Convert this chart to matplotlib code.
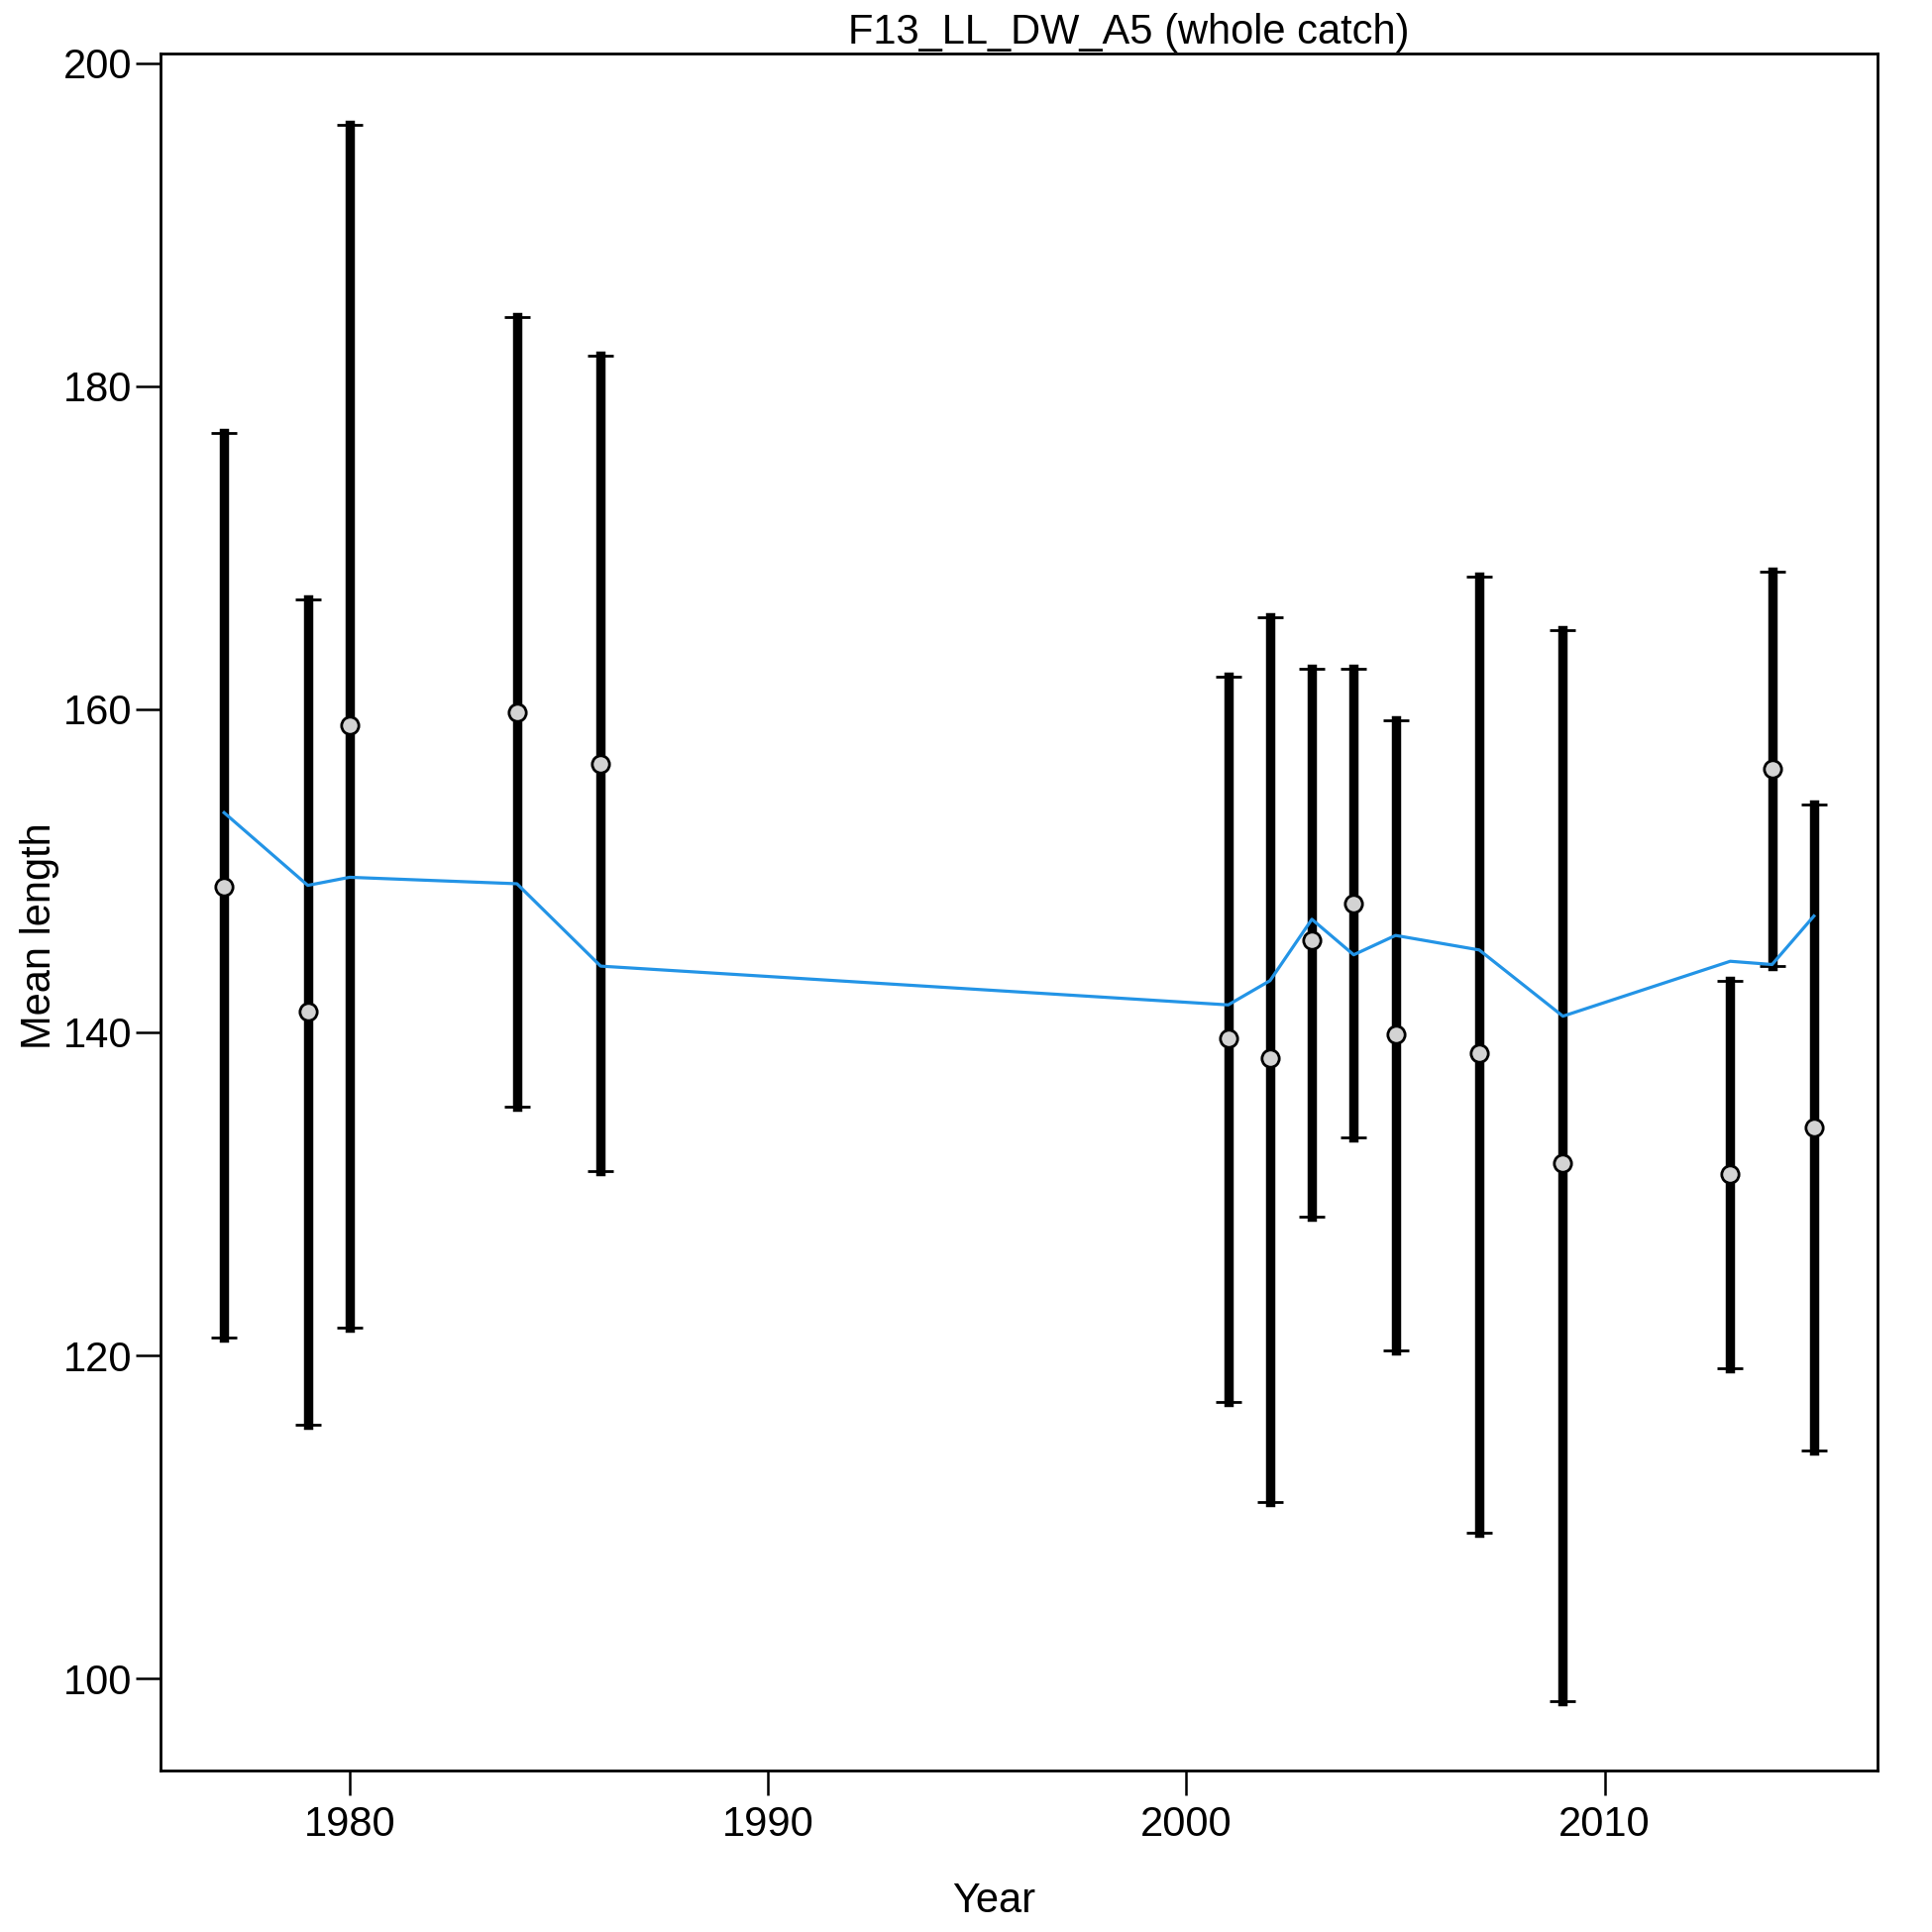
import matplotlib
matplotlib.use("Agg")
import matplotlib.pyplot as plt

plt.rcParams['font.family'] = ['Liberation Sans', 'DejaVu Sans']

years = [1977, 1979, 1980, 1984, 1986, 2001, 2002, 2003, 2004, 2005, 2007, 2009, 2013, 2014, 2015]
observed = [149.0, 141.3, 159.0, 159.8, 156.6, 139.6, 138.4, 145.7, 148.0, 139.9, 138.7, 131.9, 131.2, 156.3, 134.1]
predicted = [153.6, 149.1, 149.6, 149.2, 144.1, 141.7, 143.2, 147.0, 144.8, 146.0, 145.1, 141.0, 144.4, 144.2, 147.2]
upper = [177.1, 166.8, 196.2, 184.3, 181.9, 162.0, 165.7, 162.5, 162.5, 159.3, 168.2, 164.9, 143.2, 168.5, 154.1]
lower = [121.1, 115.7, 121.7, 135.4, 131.4, 117.1, 110.9, 128.6, 133.5, 120.3, 109.0, 98.6, 119.2, 144.1, 114.1]

x_ticks = [1980, 1990, 2000, 2010]
y_ticks = [100, 120, 140, 160, 180, 200]
title = "F13_LL_DW_A5 (whole catch)"
xlabel = "Year"
ylabel = "Mean length"

W = 1950.0
fig = plt.figure(figsize=(19.5, 19.5), dpi=100)
ax = fig.add_axes([162 / W, 1 - 1787 / W, (1895 - 162) / W, (1787 - 54) / W])

fs = 30

# error bars (thick) with thin caps
ax.vlines(years, lower, upper, colors='black', linewidth=6.8, capstyle='projecting', zorder=2)
ax.plot(years, upper, linestyle='none', marker='_', markersize=19, markeredgewidth=2.0,
        color='black', zorder=3)
ax.plot(years, lower, linestyle='none', marker='_', markersize=19, markeredgewidth=2.0,
        color='black', zorder=3)

# predicted line
ax.plot(years, predicted, color='#2394e6', linewidth=2.3, zorder=4)

# observed points
ax.plot(years, observed, linestyle='none', marker='o', markersize=12.5,
        markerfacecolor='#d3d3d3', markeredgecolor='black', markeredgewidth=2.0, zorder=5)

ax.set_xlim(1975.48, 2016.52)
ax.set_ylim(94.3, 200.6)
ax.set_xticks(x_ticks)
ax.set_yticks(y_ticks)
ax.set_xticklabels([str(t) for t in x_ticks], fontsize=fs)
ax.set_yticklabels([str(t) for t in y_ticks], fontsize=fs)
ax.tick_params(axis='both', direction='out', length=18, width=1.8, color='black')
ax.tick_params(axis='x', pad=7)
ax.tick_params(axis='y', pad=2.5)
for s in ax.spines.values():
    s.set_linewidth(2.0)
    s.set_color('black')

fig.text(1139 / W, 1 - 44.3 / W, title, ha='center', va='baseline', fontsize=fs)
fig.text(1003 / W, 1 - 1930 / W, xlabel, ha='center', va='baseline', fontsize=fs)
fig.text(50.7 / W, 1 - 945 / W, ylabel, ha='center', va='baseline', rotation=90,
         rotation_mode='anchor', fontsize=fs)

fig.savefig("out.png", dpi=100, facecolor='white')
